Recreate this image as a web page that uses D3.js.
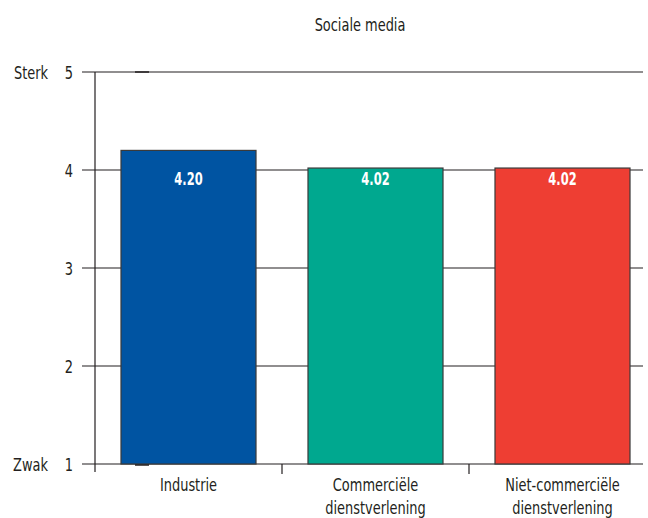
<!DOCTYPE html>
<html><head><meta charset="utf-8">
<script src="https://cdn.jsdelivr.net/npm/d3@7"></script>
<style>
body{margin:0;background:#fff;}
text{font-family:"DejaVu Sans Condensed","Liberation Sans Narrow","Roboto",sans-serif;fill:#231f20;}
</style></head><body>
<svg id="c" width="648" height="518"></svg>
<script>
const title = "Sociale media";
const categories = [["Industrie"], ["Commerciële","dienstverlening"], ["Niet-commerciële","dienstverlening"]];
const values = [4.20, 4.02, 4.02];
const colors = ["#0054a2", "#00a88f", "#ee3e33"];
const yTicks = [1, 2, 3, 4, 5];
const yLabels = {5: "Sterk", 1: "Zwak"};

(function(){
const svg = d3.select("#c");
const mLeft = 95, mRight = 656, mTop = 72, mBottom = 464, gridRight = 643;
const SX = 0.8;
const x = d3.scaleBand().domain(d3.range(categories.length)).range([mLeft, mRight])
  .paddingInner(0.278).paddingOuter(0.139);
const step = x.step();
const y = d3.scaleLinear().domain([1, 5]).range([mBottom, mTop]);
const cx = i => x(i) + x.bandwidth() / 2;

function txt(px, py, s, anchor, size, sx, extra) {
  const t = svg.append("text")
    .attr("transform", `translate(${px},${py}) scale(${sx},1)`)
    .attr("text-anchor", anchor).style("font-size", size + "px").text(s);
  if (extra) extra(t);
  return t;
}

txt(360, 31, title, "middle", 18, SX);

svg.selectAll(".grid").data(yTicks).enter().append("line")
  .attr("x1", 82).attr("x2", gridRight)
  .attr("y1", d => y(d)).attr("y2", d => y(d))
  .attr("stroke", "#231f20").attr("stroke-width", 1.2);

svg.append("line").attr("x1", mLeft).attr("x2", mLeft).attr("y1", mTop).attr("y2", mBottom + 8)
  .attr("stroke", "#231f20").attr("stroke-width", 1.2);

yTicks.forEach(d => {
  txt(73, y(d) + 7, String(d), "end", 18, SX);
  if (yLabels[d]) txt(48, y(d) + 7, yLabels[d], "end", 18, SX);
});

svg.selectAll(".bar").data(values).enter().append("rect")
  .attr("x", (d, i) => x(i)).attr("width", x.bandwidth())
  .attr("y", d => y(d)).attr("height", d => y(1) - y(d))
  .attr("fill", (d, i) => colors[i]).attr("stroke", "#3a3a3a").attr("stroke-width", 1.2);

svg.append("line").attr("x1", 135).attr("x2", 149).attr("y1", mTop).attr("y2", mTop).attr("stroke", "#231f20").attr("stroke-width", 1.5);
svg.append("line").attr("x1", 135).attr("x2", 149).attr("y1", mBottom + 1).attr("y2", mBottom + 1).attr("stroke", "#231f20").attr("stroke-width", 1.5);

values.forEach((d, i) => {
  txt(cx(i), 185, d.toFixed(2), "middle", 17, 0.75, t => t.style("font-weight", "bold").style("fill", "#fff"));
});

svg.selectAll(".ct").data(d3.range(1, categories.length)).enter().append("line")
  .attr("x1", i => mLeft + step * i).attr("x2", i => mLeft + step * i)
  .attr("y1", mBottom).attr("y2", mBottom + 10)
  .attr("stroke", "#231f20").attr("stroke-width", 1.2);

categories.forEach((lines, i) => {
  lines.forEach((s, j) => txt(cx(i), 491 + j * 23, s, "middle", 18, SX));
});
})();
</script>
</body></html>
